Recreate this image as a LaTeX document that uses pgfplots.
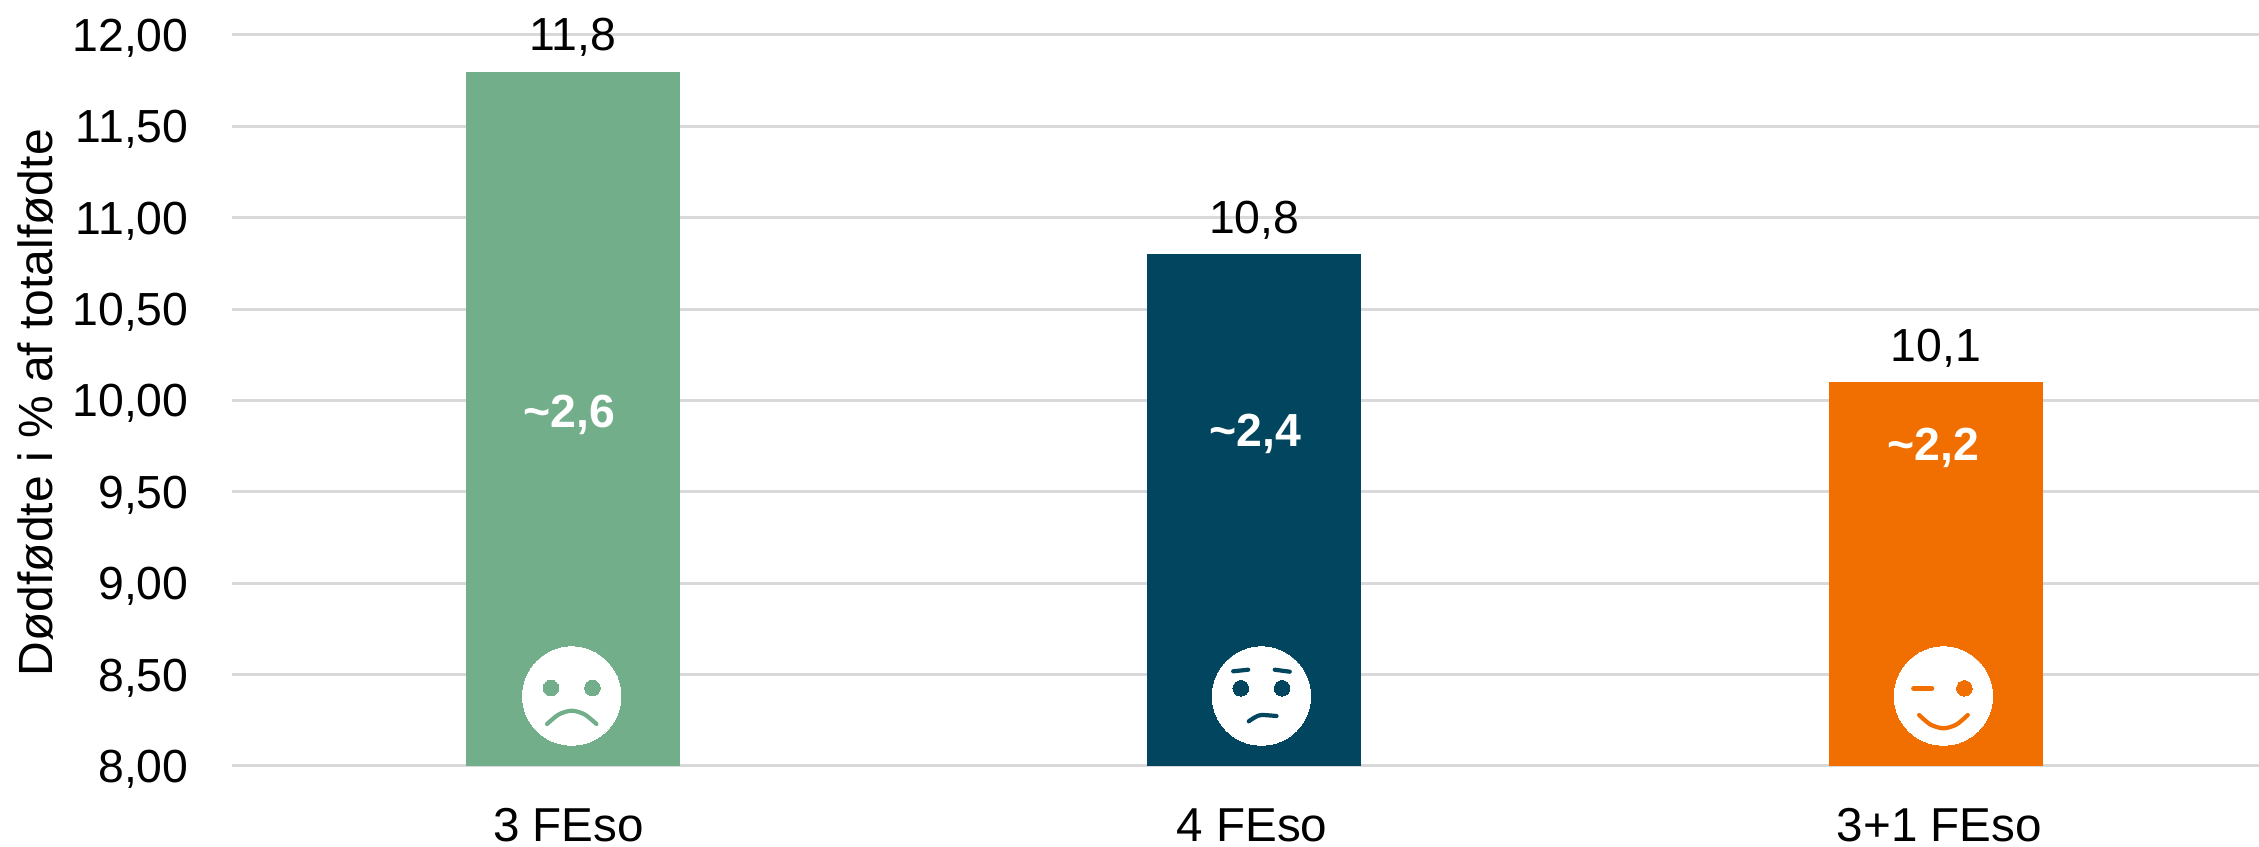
\documentclass[border=0pt]{standalone}
\usepackage{pgfplots}
\pgfplotsset{compat=1.18}
\usepackage{fontspec}
\setmainfont{Liberation Sans}
\definecolor{cgreen}{HTML}{73AE8B}
\definecolor{cnavy}{HTML}{01455F}
\definecolor{corange}{HTML}{F16E00}
\definecolor{cgrid}{HTML}{D9D9D9}
% 1 px of the reference = 0.5pt
\begin{document}
\begin{tikzpicture}[x=1pt,y=1pt]
\useasboundingbox (0,0) rectangle (1129.5,423);
\begin{axis}[
  at={(116pt,40pt)}, anchor=south west,
  scale only axis, width=1013.5pt, height=365.5pt,
  xmin=-0.5, xmax=2.4743, ymin=8, ymax=12,
  axis line style={draw=none},
  tick style={draw=none},
  ymajorgrids, grid style={cgrid,line width=1.5pt},
  ytick={8,8.5,9,9.5,10,10.5,11,11.5,12},
  xtick={-0.0063,0.9968,2.0053},
  xticklabels={3 FEso,4 FEso,3+1 FEso},
  /pgf/number format/assume math mode=true,
  yticklabel style={/pgf/number format/fixed,/pgf/number format/fixed zerofill,
    /pgf/number format/precision=2,/pgf/number format/use comma,
    font=\fontsize{23.2pt}{26pt}\selectfont, anchor=east, inner sep=0pt, xshift=-21.5pt, yshift=-1.6pt},
  xticklabel style={font=\fontsize{23.8pt}{26pt}\selectfont, anchor=base, inner sep=0pt, yshift=-37.6pt},
  ylabel={Dødfødte i \% af totalfødte},
  ylabel style={font=\fontsize{24pt}{26pt}\selectfont, at={(axis description cs:0,0.497)}, anchor=base, inner sep=0pt, yshift=89.5pt},
  clip=false,
  nodes near coords style={font=\fontsize{23.2pt}{26pt}\selectfont, anchor=base, inner sep=0pt, yshift=10.5pt,
    /pgf/number format/fixed,/pgf/number format/fixed zerofill,/pgf/number format/precision=1,/pgf/number format/use comma},
]
\addplot[ybar,bar width=107pt,fill=cgreen,draw=none,bar shift=0pt,nodes near coords] coordinates {(0,11.8)};
\addplot[ybar,bar width=107pt,fill=cnavy,draw=none,bar shift=0pt,nodes near coords] coordinates {(1,10.8)};
\addplot[ybar,bar width=107pt,fill=corange,draw=none,bar shift=0pt,nodes near coords] coordinates {(2,10.1)};
% values inside the bars
\node[white,font=\fontsize{23.2pt}{26pt}\selectfont\bfseries,inner sep=0pt] at (axis cs:-0.005,9.921) {\textasciitilde 2,6};
\node[white,font=\fontsize{23.2pt}{26pt}\selectfont\bfseries,inner sep=0pt] at (axis cs:1.0015,9.817) {\textasciitilde 2,4};
\node[white,font=\fontsize{23.2pt}{26pt}\selectfont\bfseries,inner sep=0pt] at (axis cs:1.997,9.74) {\textasciitilde 2,2};
% faces: white discs
\addplot[only marks,mark=*,mark size=24.6pt,mark options={draw=white,fill=white,line width=0pt},forget plot] coordinates {(-0.0015,8.383) (1.0106,8.383) (2.0113,8.383)};
\end{axis}
% the features of the faces, in an overlay axis with the same geometry
\begin{axis}[
  at={(116pt,40pt)}, anchor=south west,
  scale only axis, width=1013.5pt, height=365.5pt,
  xmin=-0.5, xmax=2.4743, ymin=8, ymax=12,
  hide axis, clip=false,
]
% sad face
\addplot[only marks,mark=*,mark size=3.9pt,mark options={draw=cgreen,fill=cgreen,line width=0pt},forget plot] coordinates {(-0.0319,8.4268) (0.0289,8.4268)};
\addplot[color=cgreen,mark=none,smooth,line width=2.1pt,line cap=round,forget plot] coordinates {(-0.0377,8.2298) (-0.0206,8.2818) (-0.0015,8.3026) (0.0176,8.2818) (0.0347,8.2298)};
% worried face
\addplot[only marks,mark=*,mark size=3.9pt,mark options={draw=cnavy,fill=cnavy,line width=0pt},forget plot] coordinates {(0.9802,8.4251) (1.0410,8.4251)};
\addplot[color=cnavy,mark=none,line width=2.1pt,line cap=round,forget plot] coordinates {(0.9691,8.5182) (0.9911,8.5269)};
\addplot[color=cnavy,mark=none,line width=2.1pt,line cap=round,forget plot] coordinates {(1.0301,8.5269) (1.0521,8.5160)};
\addplot[color=cnavy,mark=none,smooth,line width=2.1pt,line cap=round,forget plot] coordinates {(0.9920,8.2446) (1.0018,8.2681) (1.0106,8.2790) (1.0326,8.2736)};
% winking face
\addplot[only marks,mark=*,mark size=3.9pt,mark options={draw=corange,fill=corange,line width=0pt},forget plot] coordinates {(2.0421,8.4251)};
\addplot[color=corange,mark=none,line width=2.6pt,line cap=round,forget plot] coordinates {(1.9677,8.4251) (1.9941,8.4251)};
\addplot[color=corange,mark=none,smooth,line width=2.1pt,line cap=round,forget plot] coordinates {(1.9756,8.2790) (1.9922,8.2270) (2.0113,8.2063) (2.0304,8.2270) (2.0470,8.2790)};
\end{axis}
\end{tikzpicture}
\end{document}
